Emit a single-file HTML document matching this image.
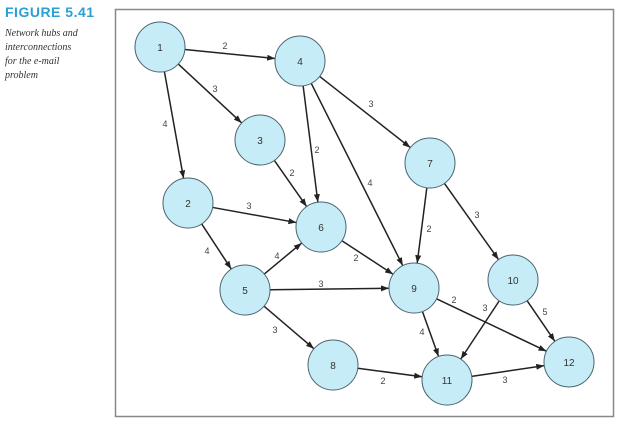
<!DOCTYPE html>
<html><head><meta charset="utf-8"><style>
body{margin:0;background:#fff;width:624px;height:426px;overflow:hidden;position:relative;font-family:"Liberation Sans",sans-serif}
.t{position:absolute;left:5px;top:4px;font:bold 14px "Liberation Sans",sans-serif;color:#2a9fd6;letter-spacing:0.5px}
.c{position:absolute;left:5px;top:27px;font:italic 10px/14px "Liberation Serif",serif;color:#333}
svg{position:absolute;left:0;top:0}
</style></head><body>
<div class="t">FIGURE 5.41</div>
<div class="c">Network hubs and<br>interconnections<br>for the e-mail<br>problem</div>
<svg width="624" height="426" id="s">
<defs><marker id="a" markerWidth="8" markerHeight="6" refX="8" refY="3" orient="auto" markerUnits="userSpaceOnUse"><path d="M0,0L8,3L0,6z" fill="#222"/></marker></defs>
<rect x="115.5" y="9.5" width="498" height="407" fill="none" stroke="#888" stroke-width="1.5"/>
<g id="e" stroke="#222" stroke-width="1.5"></g>
<g id="n" fill="#c6ecf7" stroke="#4a6470" stroke-width="1"></g>
<g font-family="Liberation Sans,sans-serif" font-size="9" fill="#444" text-anchor="middle">
<text x="225" y="49">2</text><text x="215" y="92">3</text><text x="165" y="127">4</text>
<text x="317" y="153">2</text><text x="371" y="107">3</text><text x="370" y="186">4</text>
<text x="292" y="176">2</text><text x="249" y="209">3</text><text x="207" y="254">4</text>
<text x="277" y="259">4</text><text x="356" y="261">2</text><text x="321" y="287">3</text>
<text x="429" y="232">2</text><text x="477" y="218">3</text><text x="454" y="303">2</text>
<text x="485" y="311">3</text><text x="545" y="315">5</text><text x="422" y="335">4</text>
<text x="275" y="333">3</text><text x="383" y="384">2</text><text x="505" y="383">3</text>
</g>
<g id="l" font-family="Liberation Sans,sans-serif" font-size="10" fill="#333" text-anchor="middle">
<text x="160" y="51">1</text><text x="188" y="207">2</text><text x="260" y="144">3</text>
<text x="300" y="65">4</text><text x="245" y="294">5</text><text x="321" y="231">6</text>
<text x="430" y="167">7</text><text x="333" y="369">8</text><text x="414" y="292">9</text>
<text x="513" y="284">10</text><text x="447" y="384">11</text><text x="569" y="366">12</text>
</g>
</svg>
<script>
var N={1:[160,47],2:[188,203],3:[260,140],4:[300,61],5:[245,290],6:[321,227],7:[430,163],8:[333,365],9:[414,288],10:[513,280],11:[447,380],12:[569,362]};
var R=25;
var E=[[1,4],[1,3],[1,2],[4,6],[4,7],[4,9],[3,6],[2,6],[2,5],[5,6],[6,9],[5,9],[7,9],[7,10],[9,12],[10,11],[10,12],[9,11],[5,8],[8,11],[11,12]];
var ns="http://www.w3.org/2000/svg",eg=document.getElementById('e'),ng=document.getElementById('n');
E.forEach(function(p){var a=N[p[0]],b=N[p[1]],dx=b[0]-a[0],dy=b[1]-a[1],d=Math.hypot(dx,dy),ux=dx/d,uy=dy/d;
var l=document.createElementNS(ns,'line');l.setAttribute('x1',a[0]+ux*R);l.setAttribute('y1',a[1]+uy*R);l.setAttribute('x2',b[0]-ux*R);l.setAttribute('y2',b[1]-uy*R);l.setAttribute('marker-end','url(#a)');eg.appendChild(l);});
for(var k in N){var c=document.createElementNS(ns,'circle');c.setAttribute('cx',N[k][0]);c.setAttribute('cy',N[k][1]);c.setAttribute('r',R);ng.appendChild(c);}
</script>
</body></html>
